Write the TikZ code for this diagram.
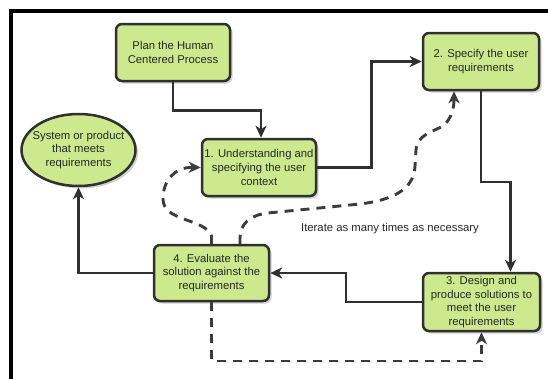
\documentclass[tikz,border=0pt]{standalone}
\usepackage{fontspec}
\setmainfont{Liberation Sans}
\usetikzlibrary{arrows.meta,shapes.geometric,shadows}
\definecolor{boxfill}{HTML}{CDE98D}
\definecolor{edgegray}{HTML}{303030}
\definecolor{dashgray}{HTML}{3C3C3C}
\newcommand{\boxfont}{\fontsize{11.3}{13.8}\selectfont}
\tikzset{
  tipstyle/.style={-{Stealth[length=12pt,width=11pt,inset=3.5pt]}},
  procbox/.style={rectangle, rounded corners=6pt, draw=edgegray, line width=2.5pt,
    fill=boxfill, align=center, font=\boxfont, text=black!85, inner sep=2pt,
    drop shadow={shadow xshift=2.5pt, shadow yshift=-2.5pt, opacity=0.3, fill=black!60}},
  endstate/.style={ellipse, draw=edgegray, line width=2.5pt, fill=boxfill, inner sep=0pt,
    drop shadow={shadow xshift=2.5pt, shadow yshift=-2.5pt, opacity=0.3, fill=black!60}},
  conn/.style={draw=edgegray, line width=2.6pt, tipstyle},
  iterline/.style={draw=dashgray, line width=2.9pt, dash pattern=on 9pt off 7pt, tipstyle},
  plain/.style={font=\boxfont, text=black!85, align=center, inner sep=0pt}
}
\begin{document}
\begin{tikzpicture}[x=1pt, y=-1pt]
\useasboundingbox (0,0) rectangle (548,378);
% outer frame, open to the right and bottom
\draw[line width=4pt, black] (10.5,390) -- (10.5,10.5) -- (560,10.5);

% process steps
\node[procbox, minimum width=114pt, minimum height=57pt] (plan) at (173,52.5)
  {Plan the Human\\Centered Process};
\node[procbox, minimum width=116pt, minimum height=57pt] (spec) at (481,61.5)
  {2. Specify the user\\requirements};
\node[procbox, minimum width=114pt, minimum height=57pt] (und) at (259,167.5)
  {1. Understanding and\\specifying the user\\context};
\node[procbox, minimum width=115pt, minimum height=56pt] (eval) at (211.5,273)
  {4. Evaluate the\\solution against the\\requirements};
\node[procbox, minimum width=117pt, minimum height=58pt] (design) at (481.5,302)
  {3. Design and\\produce solutions to\\meet the user\\requirements};
\node[endstate, minimum width=114pt, minimum height=72pt] (sys) at (78.5,150) {};
\node[plain] (systext) at (sys.center) {System or product\\that meets\\requirements};

\node[plain] (iterlabel) at (390,229) {Iterate as many times as necessary};

% main flow
\draw[conn] (plan.south) -- ++(0,28) -| ([xshift=2pt]und.north);
\draw[conn] (und.east) -- ++(54,0) |- (spec.west);
\draw[conn] (spec.south) -- (481,182) -| ([xshift=29pt]design.north);
\draw[conn] (design.west) -- (346,302) |- (eval.east);
\draw[conn] (eval.west) -| (sys.south);

% iteration loops
\draw[iterline] (eval.north) -- (211.5,236)
  .. controls (205,218) and (163,222) .. (163,199)
  .. controls (163,180) and (175,167) .. (und.west);
\draw[iterline] ([xshift=28.5pt]eval.north) -- (240,238)
  .. controls (240,224) and (250,215) .. (268,213)
  -- (360,204)
  .. controls (392,200) and (414,190) .. (415,166)
  -- (416,150)
  .. controls (417,135) and (432,132) .. (443,126)
  .. controls (452,118) and (454,108) .. ([xshift=-27pt]spec.south);
\draw[iterline] (eval.south) -- (211.5,361) -| (design.south);
\end{tikzpicture}
\end{document}
